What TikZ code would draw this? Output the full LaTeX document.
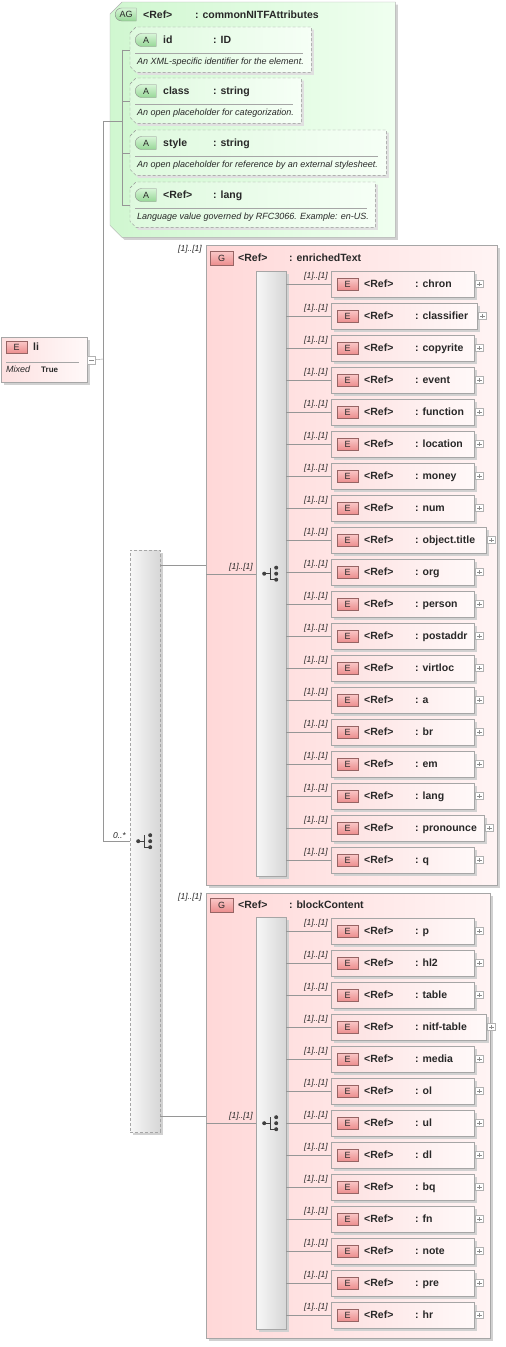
\documentclass[tikz,border=0pt]{standalone}
\usepackage{fontspec}
\setmainfont{Liberation Sans}
\usepackage{tikz}
\usetikzlibrary{positioning,shapes.misc,shadows}

\definecolor{grpink}{RGB}{255,216,216}
\definecolor{grpinklt}{RGB}{255,244,244}
\definecolor{elpink}{RGB}{253,224,224}
\definecolor{elpinklt}{RGB}{255,249,249}
\definecolor{agreen}{RGB}{208,247,208}
\definecolor{agreenlt}{RGB}{240,255,240}
\definecolor{tagtop}{RGB}{250,200,200}
\definecolor{tagbot}{RGB}{236,142,142}
\definecolor{tagedge}{RGB}{150,100,100}
\definecolor{atagtop}{RGB}{215,245,215}
\definecolor{atagbot}{RGB}{150,215,150}
\definecolor{linegray}{RGB}{150,150,150}
\definecolor{txt}{RGB}{40,40,40}

\begin{document}
\begin{tikzpicture}[
  x=1pt, y=-1pt,
  font=\fontsize{10.5}{12}\selectfont\bfseries,
  text=txt,
  boxshadow/.style={general shadow={fill=black!18, shadow xshift=2.5pt, shadow yshift=-2.5pt}},
  frame/.style={anchor=north west, inner sep=0pt},
  grp/.style={draw=black!35, left color=grpink, right color=grpinklt, boxshadow, anchor=north west, inner sep=0pt},
  elem/.style={draw=black!35, left color=elpink, right color=elpinklt, boxshadow, anchor=west, minimum height=26pt, inner sep=0pt},
  seqbox/.style={draw=black!35, left color=black!3, right color=black!16, boxshadow, anchor=north west, minimum width=30pt, inner sep=0pt},
  agrp/.style={draw=black!30, left color=agreen, right color=agreenlt, boxshadow},
  attr/.style={draw=black!42, dash pattern=on 3pt off 2pt, left color=agreen!70!white, right color=agreenlt!60!white, general shadow={fill=black!12, shadow xshift=2.5pt, shadow yshift=-2.5pt}},
  etag/.style={draw=tagedge, top color=tagtop, bottom color=tagbot, minimum width=21pt, minimum height=12pt, inner sep=0pt, font=\fontsize{9}{10}\selectfont, anchor=west},
  gtag/.style={etag, minimum width=23pt, minimum height=14pt},
  atag/.style={rounded rectangle, rounded rectangle right arc=none, draw=black!45, top color=atagtop, bottom color=atagbot, minimum width=21pt, minimum height=13pt, inner sep=0pt, font=\fontsize{9}{10}\selectfont, anchor=west},
  lbl/.style={anchor=base west, inner sep=0pt},
  desc/.style={anchor=base west, inner sep=0pt, font=\fontsize{9}{10}\selectfont\itshape},
  mult/.style={inner sep=1pt, font=\fontsize{8.5}{9}\selectfont\itshape},
  divider/.style={draw=black!35},
  conn/.style={draw=linegray},
  plusbox/.style={draw=black!30, fill=white, minimum width=8pt, minimum height=7pt, inner sep=0pt, anchor=west,
    path picture={\draw[black!45] ([xshift=-2.2pt]path picture bounding box.center) -- ([xshift=2.2pt]path picture bounding box.center)
      ([yshift=-2.2pt]path picture bounding box.center) -- ([yshift=2.2pt]path picture bounding box.center);}},
  minusbox/.style={draw=black!30, fill=white, minimum width=8pt, minimum height=8pt, inner sep=0pt, anchor=west,
    path picture={\draw[black!45] ([xshift=-2.2pt]path picture bounding box.center) -- ([xshift=2.2pt]path picture bounding box.center);}},
  seqmark/.pic={
    \fill[black!75] (-7,0) circle (2);
    \draw[black!75, line width=0.9pt] (-7,0) -- (-1,0) (-1,-6) -- (-1,6) -- (5,6);
    \foreach \d in {-6,0,6} \fill[black!75] (5,\d) circle (2);
  }
]
\useasboundingbox (0,0) rectangle (506,1347);

\node[frame, minimum width=285pt, minimum height=235pt] (ag) at (110,2) {};
\path[agrp] ([yshift=-12pt]ag.north west) -- ([xshift=12pt]ag.north west) -- (ag.north east)
  -- (ag.south east) -- ([xshift=12pt]ag.south west) -- ([yshift=12pt]ag.south west) -- cycle;
\node[atag] (ag-t) at (115,14.5) {AG};
\node[lbl] (ag-r) at (143,18) {<Ref>};
\node[lbl] (ag-n) at (195,18) {: commonNITFAttributes};
\coordinate (agbar) at (122,121);

\foreach \nm/\tp/\ty/\w/\tx [count=\i] in {
  id/ID/27/181/{An XML-specific identifier for the element.},
  class/string/78/171/{An open placeholder for categorization.},
  style/string/130/256/{An open placeholder for reference by an external stylesheet.},
  {<Ref>}/lang/182/245/{Language value governed by RFC3066. Example: en-US.}} {
  \node[frame, minimum width=\w, minimum height=45pt] (a\i) at (130,\ty) {};
  \path[attr] ([yshift=-6pt]a\i.north west) -- ([xshift=6pt]a\i.north west) -- (a\i.north east)
    -- (a\i.south east) -- ([xshift=6pt]a\i.south west) -- ([yshift=6pt]a\i.south west) -- cycle;
  \node[atag] (a\i-t) at (135,{\ty+13}) {A};
  \node[lbl] (a\i-n) at (163,{\ty+16.5}) {\nm};
  \node[lbl] (a\i-y) at (213,{\ty+16.5}) {: \tp};
  \draw[divider] (135,{\ty+26}) -- ({130+\w-8},{\ty+26});
  \node[desc] (a\i-d) at (137,{\ty+37}) {\tx};
  \draw[conn] (agbar |- a\i.west) -- (a\i.west);
}
\draw[conn] (agbar |- a1.west) -- (agbar |- a4.west);

\node[draw=black!35, left color=elpink, right color=elpinklt, boxshadow, anchor=north west, minimum width=86pt, minimum height=45pt, inner sep=0pt] (li) at (1,337) {};
\node[etag] (li-t) at (6,347) {E};
\node[lbl] (li-n) at (33,350.5) {li};
\draw[divider] (6,362) -- (79,362);
\node[lbl, font=\fontsize{9}{10}\selectfont\itshape] (li-m) at (6,372.5) {Mixed};
\node[lbl, font=\fontsize{8}{9}\selectfont\bfseries] (li-v) at (41,372) {True};
\node[minusbox] (li-x) at (li.east) {};
\coordinate (fork) at (103,359);

\node[seqbox, minimum height=582pt, dash pattern=on 3pt off 2pt] (oseq) at (130,550) {};
\pic at (oseq.center) {seqmark};

\draw[conn] (li-x.east) -- (fork);
\draw[conn] (fork) |- (agbar);
\draw[conn] (fork) |- (oseq.west) node[mult, at end, anchor=south east, xshift=-3pt, yshift=1pt] (om) {0..*};

\node[grp, minimum width=291pt, minimum height=640pt] (ga) at (206,245) {};
\node[mult, anchor=east] (ga-m) at ([xshift=-3pt, yshift=-4pt]ga.north west) {[1]..[1]};
\node[gtag] (ga-t) at (210,258) {G};
\node[lbl] (ga-r) at (238,261.5) {<Ref>};
\node[lbl] (ga-n) at (289,261.5) {: enrichedText};
\node[seqbox, minimum height=605pt] (sa) at (256,271) {};
\pic at (sa.center) {seqmark};
\draw[conn] (oseq.east |- ga.west) -- (ga.west);
\draw[conn] (ga.west |- sa.west) -- (sa.west) node[mult, at end, anchor=south east, xshift=-2pt, yshift=1.5pt] (sa-m) {[1]..[1]};

\foreach \nm/\w [count=\i from 0] in {chron/143, classifier/146, copyrite/143, event/143, function/143,
  location/143, money/143, num/143, object.title/155, org/143, person/143, postaddr/143, virtloc/143,
  a/143, br/143, em/143, lang/143, pronounce/153, q/143} {
  \node[elem, minimum width=\w] (ea\i) at (331,{284+32*\i}) {};
  \node[etag] (ea\i-t) at ([xshift=6pt]ea\i.west) {E};
  \node[lbl] (ea\i-r) at ([xshift=33pt, yshift=-3.5pt]ea\i.west) {<Ref>};
  \node[lbl] (ea\i-n) at ([xshift=84pt, yshift=-3.5pt]ea\i.west) {: \nm};
  \node[plusbox] (ea\i-p) at ([xshift=1pt]ea\i.east) {};
  \draw[conn] (sa.east |- ea\i.west) -- (ea\i.west) node[mult, at end, anchor=south east, xshift=-2pt, yshift=2.5pt] (ea\i-m) {[1]..[1]};
}

\node[grp, minimum width=284pt, minimum height=445pt] (gb) at (206,893) {};
\node[mult, anchor=east] (gb-m) at ([xshift=-3pt, yshift=-4pt]gb.north west) {[1]..[1]};
\node[gtag] (gb-t) at (210,905) {G};
\node[lbl] (gb-r) at (238,908.5) {<Ref>};
\node[lbl] (gb-n) at (289,908.5) {: blockContent};
\node[seqbox, minimum height=412pt] (sb) at (256,917) {};
\pic at (sb.center) {seqmark};
\draw[conn] (oseq.east |- gb.west) -- (gb.west);
\draw[conn] (gb.west |- sb.west) -- (sb.west) node[mult, at end, anchor=south east, xshift=-2pt, yshift=1.5pt] (sb-m) {[1]..[1]};

\foreach \nm/\w [count=\i from 0] in {p/143, hl2/143, table/143, nitf-table/155, media/143, ol/143,
  ul/143, dl/143, bq/143, fn/143, note/143, pre/143, hr/143} {
  \node[elem, minimum width=\w] (eb\i) at (331,{931+32*\i}) {};
  \node[etag] (eb\i-t) at ([xshift=6pt]eb\i.west) {E};
  \node[lbl] (eb\i-r) at ([xshift=33pt, yshift=-3.5pt]eb\i.west) {<Ref>};
  \node[lbl] (eb\i-n) at ([xshift=84pt, yshift=-3.5pt]eb\i.west) {: \nm};
  \node[plusbox] (eb\i-p) at ([xshift=1pt]eb\i.east) {};
  \draw[conn] (sb.east |- eb\i.west) -- (eb\i.west) node[mult, at end, anchor=south east, xshift=-2pt, yshift=2.5pt] (eb\i-m) {[1]..[1]};
}
\end{tikzpicture}
\end{document}
